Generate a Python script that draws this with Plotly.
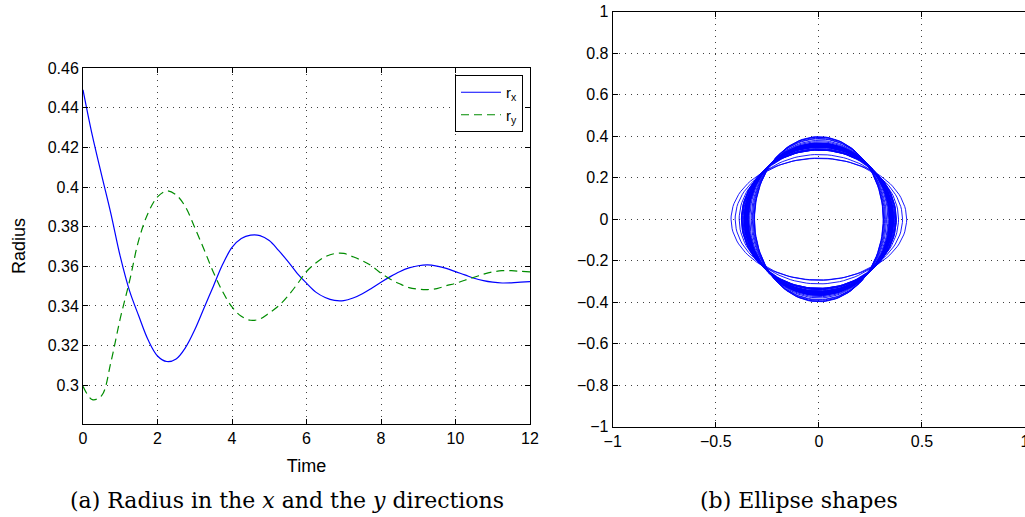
import numpy as np
import plotly.graph_objects as go

# ---- data ----
time = [0.0, 0.25, 0.5, 0.75, 1.0, 1.25, 1.5, 1.75, 2.0, 2.25, 2.5, 2.75, 3.0, 3.25, 3.5, 3.75,
        4.0, 4.25, 4.5, 4.75, 5.0, 5.25, 5.5, 5.75, 6.0, 6.25, 6.5, 6.75, 7.0, 7.25, 7.5, 7.75,
        8.0, 8.25, 8.5, 8.75, 9.0, 9.25, 9.5, 9.75, 10.0, 10.25, 10.5, 10.75, 11.0, 11.25, 11.5, 11.75, 12.0]

r_x = [0.449, 0.426, 0.406, 0.3865, 0.365, 0.3476, 0.3348, 0.3228, 0.3148, 0.3120, 0.3133, 0.319,
       0.328, 0.339, 0.350, 0.361, 0.3695, 0.374, 0.3757, 0.3755, 0.373, 0.368, 0.3625, 0.3565,
       0.3515, 0.347, 0.3443, 0.3428, 0.3427, 0.344, 0.3462, 0.349, 0.352, 0.3548, 0.3573, 0.3592,
       0.3603, 0.3607, 0.3601, 0.359, 0.3573, 0.3557, 0.354, 0.3528, 0.352, 0.3516, 0.3517, 0.352, 0.3523]

r_y = [0.2995, 0.2928, 0.2948, 0.3118, 0.3337, 0.3526, 0.3735, 0.387, 0.395, 0.398, 0.396, 0.390,
       0.3795, 0.3685, 0.357, 0.3472, 0.3395, 0.3348, 0.3328, 0.3335, 0.3365, 0.340, 0.345, 0.351,
       0.3574, 0.3617, 0.3648, 0.3664, 0.3665, 0.3648, 0.3628, 0.3602, 0.3565, 0.3535, 0.3512, 0.3493,
       0.3485, 0.3483, 0.3488, 0.3502, 0.3514, 0.353, 0.3545, 0.356, 0.3572, 0.3578, 0.3578, 0.3575, 0.3572]

left_xticks = [0, 2, 4, 6, 8, 10, 12]
left_yticks = [0.3, 0.32, 0.34, 0.36, 0.38, 0.4, 0.42, 0.44, 0.46]
right_xticks = [-1, -0.5, 0, 0.5, 1]
right_yticks = [-1, -0.8, -0.6, -0.4, -0.2, 0, 0.2, 0.4, 0.6, 0.8, 1]

W, H = 1025, 517
BLUE = "rgb(0,0,255)"
GREEN = "rgb(0,140,0)"
SANS = "Liberation Sans, Arial, sans-serif"
TICKFONT = dict(family=SANS, size=16, color="black")
LABELFONT = dict(family=SANS, size=18, color="black")

fig = go.Figure()

fig.add_trace(go.Scatter(x=time, y=r_x, mode="lines", name="r<sub>x</sub>",
                         line=dict(color=BLUE, width=1.2, shape="spline"),
                         xaxis="x", yaxis="y"))
fig.add_trace(go.Scatter(x=time, y=r_y, mode="lines", name="r<sub>y</sub>",
                         line=dict(color=GREEN, width=1.2, dash="8px,5px", shape="spline"),
                         xaxis="x", yaxis="y"))

# ellipses x = r_x cos(theta), y = r_y sin(theta) for each sampled time (after t=0)
theta = np.linspace(0, 2 * np.pi, 121)
ex, ey = [], []
for a, b in zip(r_x[1:], r_y[1:]):
    ex.extend(list(a * np.cos(theta)) + [None])
    ey.extend(list(b * np.sin(theta)) + [None])
fig.add_trace(go.Scatter(x=ex, y=ey, mode="lines", showlegend=False,
                         line=dict(color=BLUE, width=0.9),
                         xaxis="x2", yaxis="y2"))

common = dict(showline=True, linecolor="black", linewidth=1, mirror="ticks",
              ticks="inside", ticklen=5, tickcolor="black", tickwidth=1,
              showgrid=True, gridcolor="rgba(0,0,0,0.75)", gridwidth=1, griddash="1px,5px",
              zeroline=False, tickfont=TICKFONT, automargin=False)

fig.update_layout(
    width=W, height=H,
    margin=dict(l=0, r=0, t=0, b=0, autoexpand=False),
    paper_bgcolor="white", plot_bgcolor="white",
    xaxis=dict(domain=[83 / W, 530 / W], range=[0, 12], tickvals=left_xticks,
               title=dict(text="Time", font=LABELFONT, standoff=13), anchor="y", **common),
    yaxis=dict(domain=[1 - 424 / H, 1 - 68 / H], range=[0.2805, 0.46], tickvals=left_yticks,
               tickformat=".2~f",
               title=dict(text="Radius", font=LABELFONT, standoff=17), anchor="x", **common),
    xaxis2=dict(domain=[612.7 / W, 1.0], range=[-1, 1], tickvals=right_xticks,
                ticklabeloverflow="allow", anchor="y2", **common),
    yaxis2=dict(domain=[1 - 426.7 / H, 1 - 11.7 / H], range=[-1, 1], tickvals=right_yticks,
                anchor="x2", **common),
    legend=dict(x=523 / W, xanchor="right", y=1 - 75 / H, yanchor="top",
                bgcolor="white", bordercolor="black", borderwidth=1,
                font=dict(family=SANS, size=15, color="black"),
                itemwidth=40, tracegroupgap=2),
    showlegend=True,
)

CAPFONT = dict(family="DejaVu Serif, serif", size=22, color="black")
fig.add_annotation(text="(a) Radius in the <i>x</i> and the <i>y</i> directions",
                   x=287 / W, y=1 - 500 / H, xref="paper", yref="paper",
                   xanchor="center", yanchor="middle", showarrow=False, font=CAPFONT)
fig.add_annotation(text="(b) Ellipse shapes",
                   x=799 / W, y=1 - 500 / H, xref="paper", yref="paper",
                   xanchor="center", yanchor="middle", showarrow=False, font=CAPFONT)

fig.write_html("out.html")
